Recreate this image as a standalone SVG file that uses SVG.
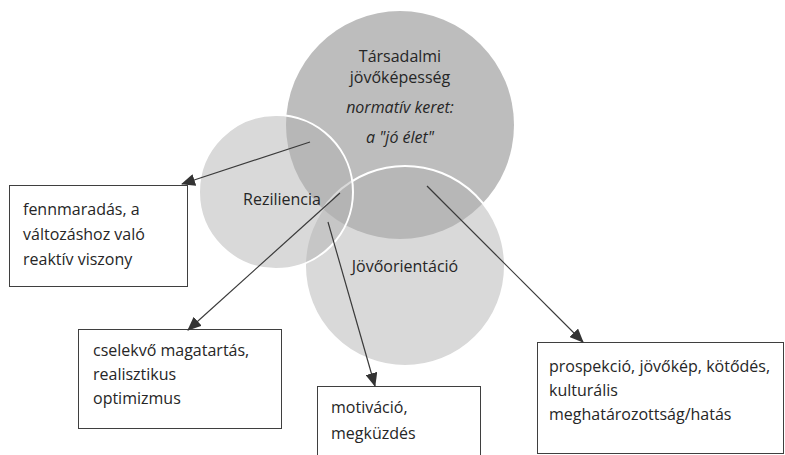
<svg xmlns="http://www.w3.org/2000/svg" width="785" height="455" viewBox="0 0 785 455">
<defs>
<style>
text{font-family:"Open Sans","Liberation Sans",sans-serif;font-size:16px;fill:#262626}
.c{text-anchor:middle}
.it{font-style:italic}
.box{fill:#fff;stroke:#3f3f3f;stroke-width:1}
.conn line{stroke:#3a3a3a;stroke-width:1.2;marker-end:url(#ah)}
</style>
<marker id="ah" markerUnits="userSpaceOnUse" markerWidth="14" markerHeight="12" viewBox="0 0 14 12" refX="13" refY="6" orient="auto">
<path d="M0,0 L14,6 L0,12 Z" fill="#333"/>
</marker>
</defs>
<rect width="785" height="455" fill="#fff"/>
<g id="tarsadalmi">
<circle cx="400" cy="125" r="114" fill="#bdbdbd"/>
</g>
<g id="jovoorientacio">
<circle cx="405" cy="266" r="100" fill="#b1b1b1" fill-opacity="0.49" stroke="#fff" stroke-width="2"/>
</g>
<g id="reziliencia">
<circle cx="276" cy="192" r="77" fill="#b1b1b1" fill-opacity="0.49" stroke="#fff" stroke-width="2"/>
</g>
<g id="labels">
<text class="c" x="400" y="62">Társadalmi</text>
<text class="c" x="400" y="83">jövőképesség</text>
<text class="c it" x="400" y="113">normatív keret:</text>
<text class="c it" x="400" y="143">a "jó élet"</text>
<text class="c" x="282" y="205">Reziliencia</text>
<text class="c" x="405" y="272">Jövőorientáció</text>
</g>
<g id="box1">
<rect class="box" x="9.5" y="185.5" width="178" height="101"/>
<text x="23" y="215">fennmaradás, a</text>
<text x="23" y="240">változáshoz való</text>
<text x="23" y="265">reaktív viszony</text>
</g>
<g id="box2">
<rect class="box" x="78.5" y="329.5" width="203" height="99"/>
<text x="93" y="356">cselekvő magatartás,</text>
<text x="93" y="380">realisztikus</text>
<text x="93" y="404">optimizmus</text>
</g>
<g id="box3">
<rect class="box" x="317.5" y="386.5" width="163" height="80"/>
<text x="331" y="413">motiváció,</text>
<text x="331" y="439">megküzdés</text>
</g>
<g id="box4">
<rect class="box" x="537.5" y="342.5" width="246" height="111"/>
<text x="549" y="372">prospekció, jövőkép, kötődés,</text>
<text x="549" y="396">kulturális</text>
<text x="549" y="420">meghatározottság/hatás</text>
</g>
<g class="conn" id="connectors">
<line x1="310" y1="142" x2="182" y2="184"/>
<line x1="340" y1="193" x2="188" y2="330"/>
<line x1="328" y1="222" x2="375" y2="386"/>
<line x1="427" y1="186" x2="583" y2="342"/>
</g>
</svg>
